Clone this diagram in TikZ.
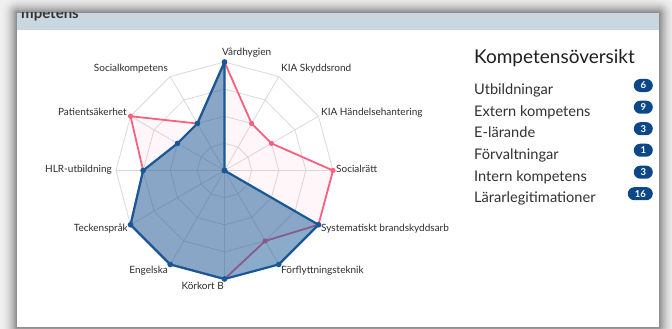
\documentclass[tikz,border=0pt]{standalone}
\usepackage{fontspec}
\setmainfont{Lato}
\definecolor{blueC}{RGB}{24,88,150}
\definecolor{pinkC}{RGB}{250,96,128}
\definecolor{gridC}{RGB}{218,218,218}
\definecolor{hdrC}{RGB}{201,215,225}
\definecolor{badgeC}{RGB}{12,72,135}
\definecolor{labelC}{RGB}{45,45,45}
\definecolor{legC}{RGB}{50,50,50}
\begin{document}
\begin{tikzpicture}[x=1pt,y=-1pt,
  grid/.style={draw=gridC, line width=0.8pt},
  lbl/.style={inner sep=0pt, font=\fontsize{10}{11}\selectfont, text=labelC, text height=7pt, text depth=2pt},
  legtitle/.style={inner sep=0pt, font=\fontsize{19}{20}\selectfont, text=black!88},
  legitem/.style={inner sep=0pt, font=\fontsize{14.6}{15}\selectfont, text=legC},
  badge/.style={fill=badgeC, text=white, inner sep=0pt, minimum height=13pt, rounded corners=6.5pt, font=\bfseries\fontsize{9.5}{9.5}\selectfont},
  pinkline/.style={draw=pinkC, line width=1.8pt, line join=round},
  blueline/.style={draw=blueC, line width=2.2pt, line join=round}]
\useasboundingbox (0,0) rectangle (672,329);
% shadow frame
\fill[black!6] (0,0) rectangle (672,329);
\foreach \i in {16,...,1}{
  \pgfmathsetmacro\sh{6+38*(1-(\i-1)/16)^2}
  \fill[black!\sh, rounded corners=\i pt] ({17-\i},{13-\i}) rectangle ({659+\i},{327+\i});
}
\fill[white] (17,13) rectangle (659,327);
\fill[hdrC] (17,13) rectangle (659,30);
\begin{scope}
  \clip (17,13) rectangle (659,30);
  \node[anchor=base west, inner sep=0pt, font=\bfseries\fontsize{15}{15}\selectfont, text=black!80] (hdrtxt) at (21,18.3) {mpetens};
\end{scope}
% radar
\begin{scope}[shift={(224.5,170.5)}]
  \coordinate (c) at (0,0);
  \foreach \r in {0.25,0.5,0.75,1}{
    \pgfmathsetmacro\rr{\r*108.5}
    \draw[grid] (-90:\rr) \foreach \j in {1,...,11}{ -- ({-90+30*\j}:\rr) } -- cycle;
  }
  \foreach \j in {0,...,11}{
    \draw[grid] (c) -- ({-90+30*\j}:108.5);
  }
  \foreach \v [count=\k from 0] in {1,0.5,0.5,1,1,0.75,1,1,1,0.75,1,0.5}{
    \pgfmathsetmacro\ang{-90+30*\k}
    \pgfmathsetmacro\rad{\v*108.5}
    \coordinate (q\k) at (\ang:\rad);
  }
  \foreach \v [count=\k from 0] in {1,0,0,0,1,1,1,1,1,0.75,0.5,0.5}{
    \pgfmathsetmacro\ang{-90+30*\k}
    \pgfmathsetmacro\rad{\v*108.5}
    \coordinate (b\k) at (\ang:\rad);
  }
  \draw[pinkline, fill=pinkC, fill opacity=0.05] (q0) \foreach \j in {1,...,11}{ -- (q\j) } -- cycle;
  \foreach \j in {0,...,11}{ \fill[pinkC] (q\j) circle (2.6); }
  \fill[blueC, fill opacity=0.5] (b0) \foreach \j in {1,...,11}{ -- (b\j) } -- cycle;
  \draw[blueline] (b0) \foreach \j in {1,...,11}{ -- (b\j) } -- cycle;
  \foreach \j in {0,...,11}{ \fill[blueC] (b\j) circle (2.8); }
\end{scope}
% axis labels
\node[lbl, anchor=west] (l0) at (222,53) {Vårdhygien};
\node[lbl, anchor=west] (l1) at (281,69) {KIA Skyddsrond};
\node[lbl, anchor=west] (l2) at (321,113) {KIA Händelsehantering};
\node[lbl, anchor=west] (l3) at (336,170) {Socialrätt};
\node[lbl, anchor=west] (l4) at (321,229) {Systematiskt brandskyddsarb};
\node[lbl, anchor=west] (l5) at (281,271) {Förflyttningsteknik};
\node[lbl, anchor=east] (l6) at (224,287) {Körkort B};
\node[lbl, anchor=east] (l7) at (168,271) {Engelska};
\node[lbl, anchor=east] (l8) at (128,229) {Teckenspråk};
\node[lbl, anchor=east] (l9) at (112,170) {HLR-utbildning};
\node[lbl, anchor=east] (l10) at (127,113) {Patientsäkerhet};
\node[lbl, anchor=east] (l11) at (168,69) {Socialkompetens};
% legend
\node[legtitle, anchor=base west] (title) at (474,63.5) {Kompetensöversikt};
\foreach \t/\n/\yy/\w [count=\k] in {Utbildningar/6/94.3/19, Extern kompetens/9/116/19, E-lärande/3/137.5/19, Förvaltningar/1/159/19, Intern kompetens/3/181/19, Lärarlegitimationer/16/202.5/25}{
  \node[legitem, anchor=base west] (item\k) at (474,\yy) {\t};
  \node[badge, minimum width=\w pt, anchor=east] (badge\k) at (653,{\yy-8.8}) {\n};
}
\end{tikzpicture}
\end{document}
